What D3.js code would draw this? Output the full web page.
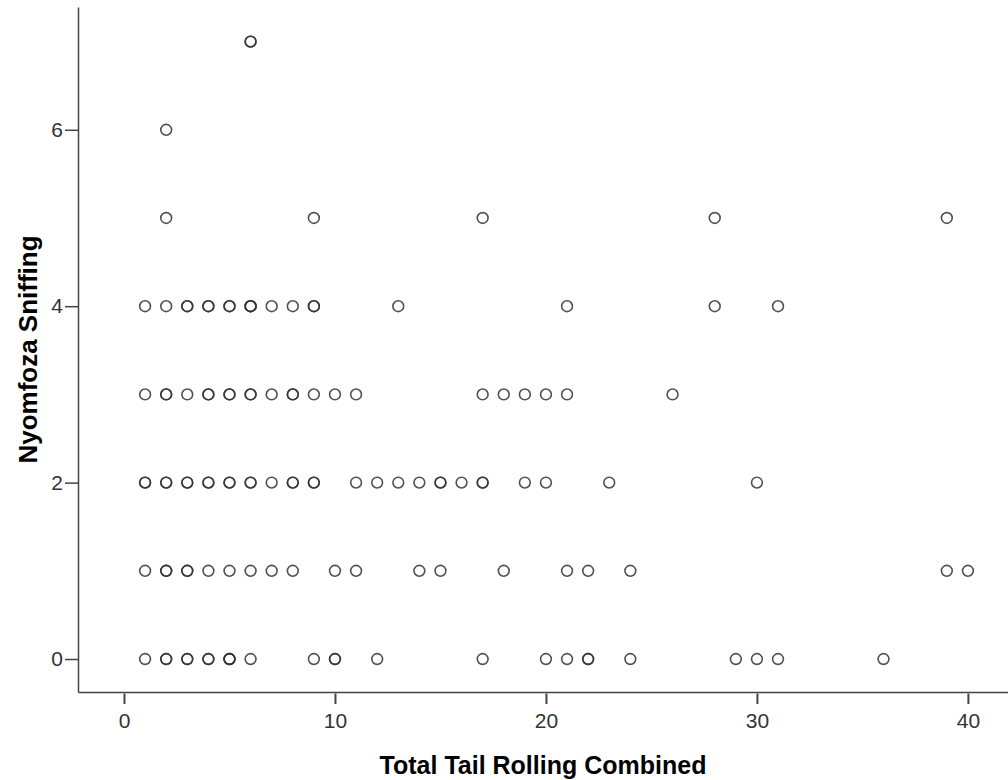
<!DOCTYPE html>
<html>
<head>
<meta charset="utf-8">
<script src="https://cdn.jsdelivr.net/npm/d3@7"></script>
<style>
  html, body { margin: 0; padding: 0; background: #fff; }
  svg { display: block; }
</style>
</head>
<body>
<svg id="chart" width="1008" height="780"></svg>
<script>
// Total Tail Rolling Combined values observed at each Nyomfoza Sniffing level
const sniff0 = [1,2,2,3,3,4,4,5,5,5,6,9,10,10,12,17,20,21,22,22,24,29,30,31,36];
const sniff1 = [1,2,2,3,3,4,5,6,7,8,10,11,14,15,18,21,22,24,39,40];
const sniff2 = [1,1,2,2,3,3,4,4,5,5,6,6,7,8,8,9,9,11,12,13,14,15,15,16,17,17,19,20,23,30];
const sniff3 = [1,2,2,3,4,4,5,5,6,6,7,8,8,9,10,11,17,18,19,20,21,26];
const sniff4 = [1,2,3,3,4,4,5,5,6,6,6,7,8,9,9,13,21,28,31];
const sniff5 = [2,9,17,28,39];
const sniff6 = [2];
const sniff7 = [6,6];
const sniffLevels = [0,1,2,3,4,5,6,7];
const rows = [sniff0, sniff1, sniff2, sniff3, sniff4, sniff5, sniff6, sniff7];

const xTicks = [0,10,20,30,40];
const yTicks = [0,2,4,6];
const xTitle = "Total Tail Rolling Combined";
const yTitle = "Nyomfoza Sniffing";

(function () {
const points = [];
rows.forEach((r, i) => r.forEach(v => points.push({x: v, y: sniffLevels[i]})));

const svg = d3.select("#chart");
const pLeft = 78, pRight = 1008, pTop = 7, pBottom = 692;

const x = d3.scaleLinear().domain([-2.18, 41.9]).range([pLeft, pRight]);
const y = d3.scaleLinear().domain([-0.374, 7.392]).range([pBottom, pTop]);

const axisColor = "#444";
const tickFont = "Liberation Sans, Arial, sans-serif";

// X axis
const gx = svg.append("g").attr("transform", `translate(0,${pBottom})`)
  .call(d3.axisBottom(x).tickValues(xTicks).tickSize(12).tickSizeOuter(0).tickPadding(9));
gx.select(".domain").attr("stroke", axisColor).attr("stroke-width", 1.5);
gx.selectAll(".tick line").attr("stroke", axisColor).attr("stroke-width", 2).attr("y1", 1.5);
gx.selectAll(".tick text").attr("font-family", tickFont).attr("font-size", 21).attr("fill", "#333");

// Y axis
const gy = svg.append("g").attr("transform", `translate(${pLeft},0)`)
  .call(d3.axisLeft(y).tickValues(yTicks).tickSize(13).tickSizeOuter(0).tickPadding(2));
gy.select(".domain").attr("stroke", axisColor).attr("stroke-width", 1.5);
gy.selectAll(".tick line").attr("stroke", axisColor).attr("stroke-width", 1.5);
gy.selectAll(".tick text").attr("font-family", tickFont).attr("font-size", 21).attr("fill", "#333");

// Points
svg.append("g").selectAll("circle").data(points).join("circle")
  .attr("cx", d => x(d.x))
  .attr("cy", d => y(d.y))
  .attr("r", 5.4)
  .attr("fill", "none")
  .attr("stroke", "#333")
  .attr("stroke-opacity", 0.85)
  .attr("stroke-width", 1.6);

// Titles
svg.append("text")
  .attr("x", (pLeft + pRight) / 2).attr("y", 774)
  .attr("text-anchor", "middle")
  .attr("font-family", "Liberation Sans, Arial, sans-serif")
  .attr("font-weight", "bold")
  .attr("font-size", 25)
  .attr("fill", "#000")
  .text(xTitle);

svg.append("text")
  .attr("transform", `translate(37,${(pTop + pBottom) / 2}) rotate(-90)`)
  .attr("text-anchor", "middle")
  .attr("font-family", "Liberation Sans, Arial, sans-serif")
  .attr("font-weight", "bold")
  .attr("font-size", 26)
  .attr("fill", "#000")
  .text(yTitle);
})();
</script>
</body>
</html>
